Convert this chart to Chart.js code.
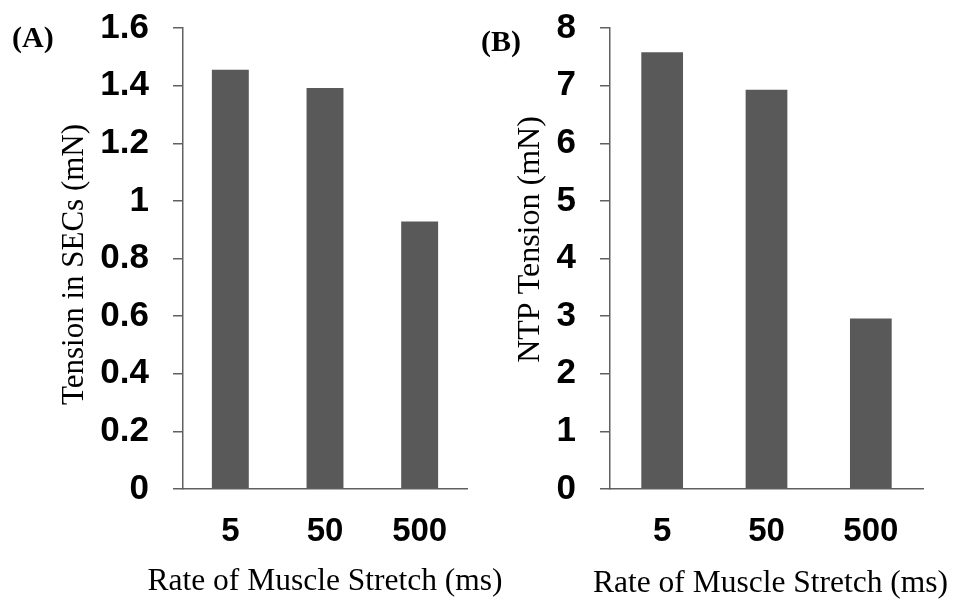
<!DOCTYPE html>
<html>
<head>
<meta charset="utf-8">
<script src="https://cdn.jsdelivr.net/npm/chart.js@4"></script>
<style>
  html, body { margin: 0; padding: 0; background: #fff; }
  #wrap { position: relative; width: 956px; height: 600px; overflow: hidden; }
  .panel { position: absolute; top: 0; height: 600px; }
</style>
</head>
<body>
<div id="wrap">
  <div class="panel" style="left:0;width:530px"><canvas id="chartA" width="530" height="600"></canvas></div>
  <div class="panel" style="left:478px;width:478px"><canvas id="chartB" width="478" height="600"></canvas></div>
</div>
<script>
// Stretch rate categories (ms)
const rates = ['5', '50', '500'];

// Panel A: tension carried by the series elastic components (mN)
const secTension = [1.455, 1.392, 0.928];
const secTicks = ['0', '0.2', '0.4', '0.6', '0.8', '1', '1.2', '1.4', '1.6'];

// Panel B: NTP tension (mN)
const ntpTension = [7.58, 6.93, 2.96];
const ntpTicks = ['0', '1', '2', '3', '4', '5', '6', '7', '8'];

const xTitle = 'Rate of Muscle Stretch (ms)';

const SERIF = '"Liberation Serif", "Times New Roman", Times, serif';
const SANS = '"Liberation Sans", Arial, Helvetica, sans-serif';
const BAR = '#595959';
const AXIS = '#606060';

// Panel letter, x-axis caption and rotated y-axis caption, placed relative
// to the chart area (the x caption is wider than the plot itself).
const panelText = {
  id: 'panelText',
  afterDraw(chart, args, opts) {
    const ctx = chart.ctx;
    const area = chart.chartArea;
    const midX = (area.left + area.right) / 2;
    const midY = (area.top + area.bottom) / 2;
    ctx.save();
    ctx.fillStyle = '#000';
    ctx.textBaseline = 'middle';

    ctx.font = 'bold 30px ' + SERIF;
    ctx.textAlign = 'left';
    ctx.fillText(opts.letter, opts.letterX, opts.letterY);

    ctx.font = '31.5px ' + SERIF;
    ctx.textAlign = 'center';
    ctx.fillText(opts.xCaption, midX + opts.xShift, opts.xCaptionY);

    ctx.translate(opts.yCaptionX, midY + opts.yShift);
    ctx.rotate(-Math.PI / 2);
    ctx.font = opts.ySize + 'px ' + SERIF;
    ctx.fillText(opts.yCaption, 0, 0);
    ctx.restore();
  }
};

function makePanel(id, cfg) {
  return new Chart(document.getElementById(id), {
    type: 'bar',
    data: {
      labels: rates,
      datasets: [{
        data: cfg.values,
        backgroundColor: BAR,
        borderWidth: 0,
        categoryPercentage: 1,
        barPercentage: cfg.barPct
      }]
    },
    options: {
      responsive: false,
      animation: false,
      devicePixelRatio: 1,
      layout: { padding: { left: 0, right: cfg.padRight, top: 28, bottom: 0 } },
      plugins: {
        legend: { display: false },
        tooltip: { enabled: false },
        panelText: cfg.text
      },
      scales: {
        x: {
          grid: { display: false, drawTicks: false },
          border: { display: true, color: AXIS, width: 1.5 },
          ticks: {
            color: '#000',
            padding: 23,
            font: { family: SANS, size: 33, weight: 'bold', lineHeight: 1.2 }
          },
          afterFit(scale) { scale.height = 111; }
        },
        y: {
          min: 0,
          max: cfg.max,
          ticks: {
            stepSize: cfg.step,
            color: '#000',
            padding: 24,
            font: { family: SANS, size: 35, weight: 'bold', lineHeight: 1.2 },
            callback: (v, i) => cfg.tickLabels[i]
          },
          grid: {
            display: true,
            drawOnChartArea: false,
            drawTicks: true,
            tickLength: 10,
            color: AXIS,
            lineWidth: 1.5
          },
          border: { display: true, color: AXIS, width: 1.5 },
          afterFit(scale) {
            scale.width = cfg.yWidth;
            // the top and bottom labels sit in the layout padding
            scale.paddingTop = 0;
            scale.paddingBottom = 0;
          }
        }
      }
    },
    plugins: [panelText]
  });
}

makePanel('chartA', {
  values: secTension,
  tickLabels: secTicks,
  max: 1.6,
  step: 0.2,
  yWidth: 183,
  padRight: 530 - 467,
  barPct: 0.39,
  text: {
    letter: '(A)', letterX: 12, letterY: 39,
    xCaption: xTitle, xShift: 0, xCaptionY: 582,
    yCaption: 'Tension in SECs (mN)', yCaptionX: 75, yShift: 6, ySize: 31
  }
});

makePanel('chartB', {
  values: ntpTension,
  tickLabels: ntpTicks,
  max: 8,
  step: 1,
  yWidth: 132,
  padRight: 33,
  barPct: 0.40,
  text: {
    letter: '(B)', letterX: 3, letterY: 43,
    xCaption: xTitle, xShift: 4, xCaptionY: 584,
    yCaption: 'NTP Tension (mN)', yCaptionX: 53, yShift: -19, ySize: 32
  }
});
</script>
</body>
</html>
